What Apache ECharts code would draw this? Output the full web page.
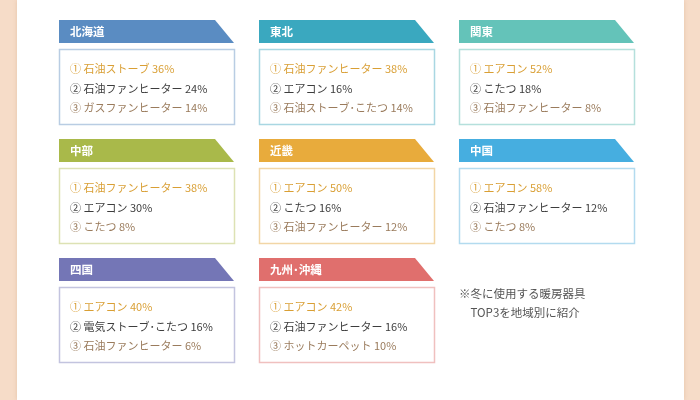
<!DOCTYPE html>
<html>
<head>
<meta charset="utf-8">
<script src="https://cdn.jsdelivr.net/npm/echarts@6/dist/echarts.min.js"></script>
<style>html,body{margin:0;padding:0;background:#f6dcc8;}#c{width:700px;height:400px;}</style>
</head>
<body>
<div id="c"></div>
<script>
// ---- data ----
const regions = ['北海道', '東北', '関東', '中部', '近畿', '中国', '四国', '九州･沖縄'];
const first   = ['石油ストーブ', '石油ファンヒーター', 'エアコン', '石油ファンヒーター', 'エアコン', 'エアコン', 'エアコン', 'エアコン'];
const firstPct = [36, 38, 52, 38, 50, 58, 40, 42];
const second  = ['石油ファンヒーター', 'エアコン', 'こたつ', 'エアコン', 'こたつ', '石油ファンヒーター', '電気ストーブ･こたつ', '石油ファンヒーター'];
const secondPct = [24, 16, 18, 30, 16, 12, 16, 16];
const third   = ['ガスファンヒーター', '石油ストーブ･こたつ', '石油ファンヒーター', 'こたつ', '石油ファンヒーター', 'こたつ', '石油ファンヒーター', 'ホットカーペット'];
const thirdPct = [14, 14, 8, 8, 12, 8, 6, 10];
const rankMarks = ['①', '②', '③'];
const footnote = ['※冬に使用する暖房器具', '　TOP3を地域別に紹介'];

// ---- styles ----
const headColors = ['#5a8cc2', '#3aa8bf', '#64c3b9', '#a9b94a', '#e8ab3c', '#46aee0', '#7476b6', '#e06f6d'];
const boxColors  = ['#b9cde3', '#a9d7e2', '#b5e0dc', '#dde2b4', '#f2d6a6', '#b3dbef', '#c3c4df', '#f0c0bf'];
const lineColors = ['#d99f34', '#3d3d3d', '#9a7b5c'];
const FONT = '"Noto Sans CJK JP", "Noto Sans", sans-serif';

const chart = echarts.init(document.getElementById('c'), null, {renderer: 'canvas'});

const seriesData = regions.map((r, i) => [i % 3, Math.floor(i / 3), i]);

function renderItem(params, api) {
  const i = api.value(2);
  const p = api.coord([api.value(0), api.value(1)]);
  const x = p[0], y = p[1];
  const W = 175, HH = 23, slant = 19, boxTop = 29, boxH = 75;
  const lines = [
    rankMarks[0] + ' ' + first[i] + ' ' + firstPct[i] + '%',
    rankMarks[1] + ' ' + second[i] + ' ' + secondPct[i] + '%',
    rankMarks[2] + ' ' + third[i] + ' ' + thirdPct[i] + '%'
  ];
  const children = [
    {type: 'polygon', shape: {points: [[x, y], [x + W - slant, y], [x + W, y + HH], [x, y + HH]]},
     style: {fill: headColors[i]}},
    {type: 'text', x: x + 11, y: y + HH / 2 + 0.5,
     style: {text: regions[i], fill: '#ffffff', font: 'bold 11.5px ' + FONT, verticalAlign: 'middle', align: 'left'}},
    {type: 'rect', shape: {x: x + 0.5, y: y + boxTop + 0.5, width: W, height: boxH},
     style: {fill: '#ffffff', stroke: boxColors[i], lineWidth: 1.5}}
  ];
  lines.forEach((t, k) => {
    children.push({type: 'text', x: x + 11, y: y + boxTop + 20 + k * 19.5,
      style: {text: t, fill: lineColors[k], font: '11px ' + FONT, verticalAlign: 'middle', align: 'left'}});
  });
  return {type: 'group', children};
}

chart.setOption({
  backgroundColor: '#f6dcc8',
  animation: false,
  grid: {left: 59, top: 20, width: 400, height: 238, containLabel: false},
  xAxis: {type: 'value', min: 0, max: 2, show: false},
  yAxis: {type: 'value', min: 0, max: 2, inverse: true, show: false},
  graphic: [
    {type: 'rect', z: -10, shape: {x: 17, y: 0, width: 667, height: 400}, style: {fill: '#ffffff', shadowBlur: 4, shadowColor: 'rgba(200,150,110,0.35)'}},
    {type: 'text', left: 459, top: 288, style: {text: footnote[0], fill: '#555555', font: '11.5px ' + FONT}},
    {type: 'text', left: 459, top: 307, style: {text: footnote[1], fill: '#555555', font: '11.5px ' + FONT}}
  ],
  series: [{
    type: 'custom',
    clip: false,
    renderItem: renderItem,
    data: seriesData
  }]
});
</script>
</body>
</html>
